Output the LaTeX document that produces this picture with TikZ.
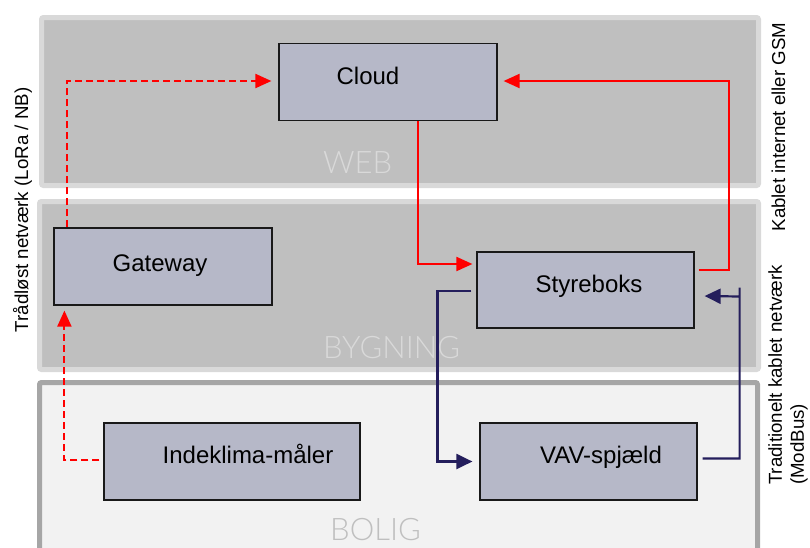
\documentclass[tikz,border=0pt]{standalone}
\usepackage{fontspec}
\setmainfont{Liberation Sans}
\newfontfamily\zonefont{Lato Light}
\usetikzlibrary{arrows.meta, positioning}
\definecolor{zonegrey}{RGB}{191, 191, 191}
\definecolor{zoneedge}{RGB}{217, 217, 217}
\definecolor{homefill}{RGB}{242, 242, 242}
\definecolor{homeedge}{RGB}{166, 166, 166}
\definecolor{unitfill}{RGB}{182, 184, 200}
\definecolor{netred}{RGB}{255, 0, 0}
\definecolor{busnavy}{RGB}{36, 30, 92}

\begin{document}
\begin{tikzpicture}[x=1pt, y=-1pt,
    zone/.style={fill=zonegrey, draw=zoneedge, line width=5pt, rounded corners=2pt},
    home/.style={fill=homefill, draw=homeedge, line width=5pt, rounded corners=2pt},
    zonetext/.style={anchor=base west, inner sep=0pt, font=\zonefont\fontsize{31}{36}\selectfont},
    unit/.style={draw=black!90, line width=1.2pt, fill=unitfill, minimum width=218pt, minimum height=77pt, inner sep=0pt},
    unittext/.style={anchor=base, inner sep=0pt, font=\fontsize{24}{28}\selectfont},
    side/.style={rotate=90, inner sep=0pt, font=\fontsize{18.7}{22}\selectfont},
    radio/.style={draw=netred, line width=2pt, dash pattern=on 7pt off 4pt, -{Triangle[length=16pt, width=14pt]}},
    cable/.style={draw=netred, line width=2pt, -{Triangle[length=16pt, width=14pt]}},
    bus/.style={draw=busnavy, line width=2.2pt, -{Triangle[length=16pt, width=15pt]}}]
    \useasboundingbox (0,0) rectangle (810,547);
    \clip (0,0) rectangle (810,547);

    % zones
    \draw[zone] (41.5,17.5) rectangle (758.5,185.5);
    \draw[zone] (39.5,201.5) rectangle (758.5,369.5);
    \draw[home] (39.5,382.5) rectangle (757.5,565);
    \node[zonetext, text=zoneedge] (web) at (323,173) {WEB};
    \node[zonetext, text=zoneedge] (bygning) at (323,358) {BYGNING};
    \node[zonetext, text=zonegrey] (bolig) at (330,540) {BOLIG};

    % units
    \node[unit] (cloud) at (388,82) {};
    \node[unit] (gateway) at (163,266.5) {};
    \node[unit, minimum width=217pt, minimum height=76pt] (styreboks) at (585.5,290) {};
    \node[unit, minimum width=256pt] (indeklima) at (232,461.5) {};
    \node[unit, minimum width=217pt] (vav) at (588.5,461.5) {};

    \node[unittext] (cloudtxt) at ([xshift=-20pt, yshift=-2pt]cloud.center) {Cloud};
    \node[unittext] (gatewaytxt) at ([xshift=-3pt, yshift=-4.5pt]gateway.center) {Gateway};
    \node[unittext] (styrebokstxt) at ([xshift=3.5pt, yshift=-2pt]styreboks.center) {Styreboks};
    \node[unittext] (indeklimatxt) at ([xshift=16pt, yshift=-1.5pt]indeklima.center) {Indeklima-måler};
    \node[unittext] (vavtxt) at ([xshift=12.5pt, yshift=-1.5pt]vav.center) {VAV-spjæld};

    % side labels
    \node[side] (radiolbl) at (22.5,210) {Trådløst netværk (LoRa / NB)};
    \node[side] (gsmlbl) at (778.5,127) {Kablet internet eller GSM};
    \node[side, align=left] (buslbl) at (788,375) {Traditionelt kablet netværk\\(ModBus)};

    % wireless
    \draw[radio] ([xshift=14pt]gateway.north west) |- ([xshift=-7pt, yshift=1pt]cloud.west);
    \draw[radio] ([xshift=-4pt, yshift=2pt]indeklima.west) -| ([xshift=11pt, yshift=-5pt]gateway.south west);

    % internet / gsm
    \draw[cable] ([xshift=30pt]cloud.south) |- ([xshift=-4pt, yshift=26pt]styreboks.west);
    \draw[cable] ([xshift=4pt, yshift=20pt]styreboks.east) -- ++(30,0) |- ([xshift=6pt, yshift=1pt]cloud.east);

    % modbus
    \draw[bus] ([xshift=-5pt, yshift=-1pt]styreboks.west) -- ++(-34,0) |- ([xshift=-7pt]vav.west);
    \draw[bus] ([xshift=5pt, yshift=3pt]vav.east) -- ++(37,0) -- ++(0,-171) ++(0,9) -- ([xshift=10pt, yshift=-6pt]styreboks.east);
\end{tikzpicture}
\end{document}
